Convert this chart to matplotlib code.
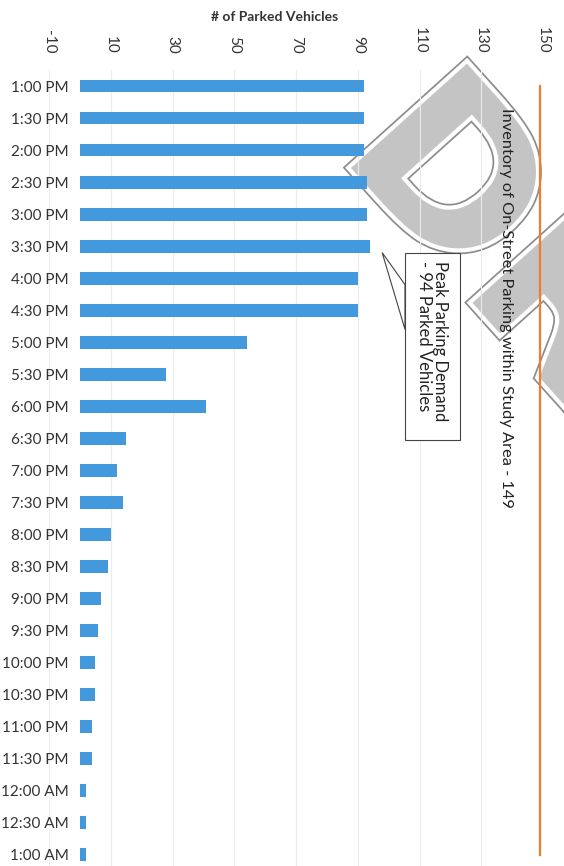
import matplotlib
matplotlib.use('Agg')

import numpy as np
import matplotlib.pyplot as plt
import matplotlib.patheffects as pe
from matplotlib.patches import Polygon, Rectangle, PathPatch
from matplotlib.textpath import TextPath
from matplotlib.font_manager import FontProperties
from matplotlib.transforms import Affine2D, IdentityTransform

times = ['1:00 PM', '1:30 PM', '2:00 PM', '2:30 PM', '3:00 PM', '3:30 PM',
         '4:00 PM', '4:30 PM', '5:00 PM', '5:30 PM', '6:00 PM', '6:30 PM',
         '7:00 PM', '7:30 PM', '8:00 PM', '8:30 PM', '9:00 PM', '9:30 PM',
         '10:00 PM', '10:30 PM', '11:00 PM', '11:30 PM', '12:00 AM',
         '12:30 AM', '1:00 AM']
parked = [92, 92, 92, 93, 93, 94, 90, 90, 54, 28, 41, 15, 12, 14, 10, 9,
          7, 6, 5, 5, 4, 4, 2, 2, 2]
inventory = 149
xticks = [-10, 10, 30, 50, 70, 90, 110, 130, 150]

plt.rcParams['font.family'] = ['Lato', 'DejaVu Sans']
plt.rcParams['axes.unicode_minus'] = False

W, H = 564, 866
fig = plt.figure(figsize=(W / 100, H / 100), dpi=100)
fig.patch.set_facecolor('white')

# draft stamp behind the chart, sized from its first letter
bold = FontProperties(family='DejaVu Sans', weight='bold')
d_ext = TextPath((0, 0), 'D', size=1, prop=bold).get_extents()
stamp = TextPath((0, 0), 'DRAFT', size=1, prop=bold)
sx = 150 / d_ext.width
sy = 156 / d_ext.height
tr = (Affine2D().translate(-d_ext.x0, -d_ext.y0).scale(sx, sy)
      .rotate_deg(-48).translate(351, H - 168))
wm = PathPatch(tr.transform_path(stamp), transform=IdentityTransform(),
               fc='#c4c4c4', ec='none', zorder=-1)
wm.set_path_effects([pe.Stroke(linewidth=8.5, foreground='#8c8c8c'),
                     pe.Stroke(linewidth=6, foreground='white'),
                     pe.Normal()])
fig.add_artist(wm)

ax = fig.add_axes([49 / W, 0, 494 / W, (H - 70) / H])
ax.set_facecolor('none')

y = np.arange(len(times))
ax.barh(y, parked, height=0.4, color='#4499dd', zorder=2)
ax.plot([inventory, inventory], [y[0], y[-1]], color='#ed7d31', lw=1.6,
        zorder=3)

ax.set_xlim(-10, 150)
ax.set_ylim(24.35, -0.5)
ax.set_xticks(xticks)
ax.set_yticks(y)
ax.set_yticklabels(times)
ax.xaxis.tick_top()
ax.tick_params(axis='x', length=0, pad=12, labelsize=11, labelrotation=-90,
               labelcolor='#333333')
ax.tick_params(axis='y', length=0, pad=-14, labelsize=11,
               labelcolor='#333333')
ax.grid(axis='x', color='#ececec', lw=0.8, zorder=0)
for s in ax.spines.values():
    s.set_visible(False)

fig.text(275 / W, 1 - 17 / H, '# of Parked Vehicles', fontsize=10,
         fontweight='bold', color='#333333', ha='center', va='center')

ax.text(138, 0.7, 'Inventory of On-Street Parking within Study Area - ' + str(inventory),
        rotation=-90, ha='center', va='top', fontsize=11.75, color='#222222',
        zorder=4)

# callout for the peak
peak_i = int(np.argmax(parked))
ax.add_patch(Polygon([[parked[peak_i] + 3.9, peak_i + 0.2], [105.3, 6.2], [105.3, 7.6]],
                     closed=True, fc='white', ec='#444444', lw=0.8, zorder=4))
ax.add_patch(Rectangle((105.3, 5.2), 17.9, 5.86, fc='white', ec='#444444',
                       lw=0.8, zorder=5))
ax.text(114.2, 5.45, 'Peak Parking Demand\n- %d Parked Vehicles' % parked[peak_i],
        rotation=-90, ha='center', va='top', multialignment='left',
        fontsize=12, color='#222222', zorder=6, linespacing=1.0)

fig.savefig('out.png', dpi=100)
